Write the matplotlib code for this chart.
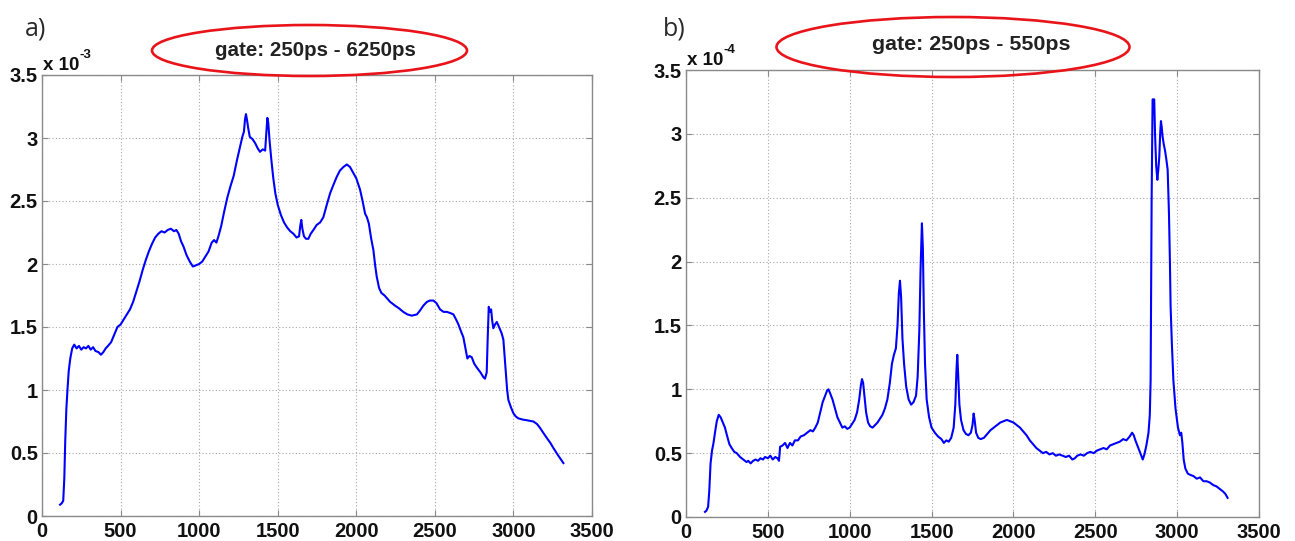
import matplotlib
matplotlib.use("Agg")
import matplotlib.pyplot as plt
from matplotlib.patches import Ellipse

plt.rcParams['font.family'] = ['Liberation Sans', 'DejaVu Sans']

# ---- panel a) : gate 250ps - 6250ps (intensity in units of 1e-3) ----
a_x = [115, 125, 135, 142, 148, 155, 162, 170, 180, 192, 205, 220, 235, 250, 265, 280,
       295, 310, 325, 340, 360, 375, 390, 405, 420, 440, 460, 480, 500, 520, 540, 560,
       580, 600, 620, 640, 660, 680, 700, 720, 740, 760, 780, 800, 820, 840, 855, 870,
       885, 900, 920, 940, 960, 980, 1000, 1020, 1040, 1060, 1080, 1095, 1110, 1125,
       1140, 1160, 1180, 1200, 1220, 1240, 1260, 1275, 1285, 1292, 1298, 1305, 1312,
       1322, 1340, 1356, 1372, 1387, 1405, 1420, 1428, 1434, 1440, 1448, 1460, 1472,
       1485, 1500, 1520, 1540, 1560, 1580, 1600, 1620, 1636, 1643, 1650, 1657, 1667,
       1680, 1695, 1710, 1727, 1748, 1770, 1790, 1810, 1833, 1855, 1875, 1895, 1918,
       1940, 1960, 1982, 2000, 2024, 2040, 2056, 2068, 2080, 2095, 2109, 2120, 2130,
       2145, 2160, 2180, 2194, 2215, 2246, 2270, 2299, 2325, 2353, 2386, 2405, 2427,
       2450, 2469, 2490, 2510, 2533, 2555, 2576, 2600, 2618, 2635, 2650, 2668, 2681,
       2695, 2707, 2720, 2735, 2750, 2766, 2790, 2810, 2819, 2830, 2836, 2843, 2850,
       2858, 2865, 2872, 2883, 2894, 2905, 2915, 2925, 2936, 2945, 2953, 2960, 2968,
       2985, 3000, 3015, 3031, 3060, 3085, 3105, 3127, 3150, 3169, 3190, 3212, 3235,
       3254, 3285, 3318]
a_y = [0.09, 0.10, 0.12, 0.30, 0.60, 0.85, 1.00, 1.15, 1.25, 1.33, 1.36, 1.33, 1.35,
       1.32, 1.34, 1.33, 1.35, 1.32, 1.34, 1.31, 1.30, 1.28, 1.30, 1.33, 1.35, 1.38,
       1.44, 1.50, 1.52, 1.56, 1.60, 1.64, 1.70, 1.78, 1.86, 1.95, 2.03, 2.10, 2.16,
       2.21, 2.24, 2.26, 2.25, 2.27, 2.28, 2.26, 2.27, 2.24, 2.18, 2.14, 2.07, 2.02,
       1.98, 1.99, 2.00, 2.02, 2.06, 2.10, 2.17, 2.19, 2.17, 2.23, 2.30, 2.42, 2.53,
       2.62, 2.70, 2.82, 2.93, 3.01, 3.05, 3.15, 3.19, 3.14, 3.08, 3.01, 2.99, 2.96,
       2.92, 2.89, 2.91, 2.90, 3.05, 3.16, 3.12, 2.98, 2.82, 2.68, 2.56, 2.47, 2.39,
       2.33, 2.29, 2.26, 2.24, 2.21, 2.22, 2.30, 2.35, 2.28, 2.22, 2.20, 2.20, 2.24,
       2.27, 2.31, 2.33, 2.37, 2.46, 2.56, 2.63, 2.69, 2.74, 2.77, 2.79, 2.77, 2.72,
       2.68, 2.59, 2.50, 2.40, 2.37, 2.32, 2.20, 2.11, 1.99, 1.90, 1.81, 1.77, 1.75,
       1.73, 1.70, 1.67, 1.65, 1.62, 1.60, 1.59, 1.60, 1.63, 1.67, 1.70, 1.71, 1.71,
       1.69, 1.64, 1.62, 1.62, 1.61, 1.60, 1.56, 1.52, 1.46, 1.42, 1.33, 1.25, 1.27,
       1.26, 1.21, 1.18, 1.14, 1.10, 1.09, 1.14, 1.40, 1.66, 1.62, 1.64, 1.55, 1.49,
       1.52, 1.54, 1.51, 1.48, 1.45, 1.40, 1.25, 1.11, 1.00, 0.92, 0.86, 0.815, 0.79,
       0.775, 0.765, 0.76, 0.755, 0.75, 0.73, 0.70, 0.66, 0.62, 0.58, 0.54, 0.48, 0.42]

# ---- panel b) : gate 250ps - 550ps (intensity in units of 1e-4) ----
b_x = [116, 125, 135, 142, 150, 159, 168, 177, 188, 200, 212, 225, 238, 250, 265, 279,
       295, 310, 330, 350, 370, 380, 395, 410, 425, 440, 455, 470, 483, 500, 515, 530,
       545, 559, 568, 575, 590, 605, 620, 635, 650, 665, 684, 700, 720, 740, 760, 775,
       790, 805, 820, 835, 850, 862, 870, 880, 895, 910, 925, 940, 955, 970, 985, 1000,
       1015, 1030, 1045, 1058, 1068, 1075, 1082, 1090, 1100, 1112, 1125, 1140, 1155,
       1170, 1185, 1200, 1215, 1230, 1245, 1258, 1270, 1282, 1292, 1300, 1307, 1314,
       1322, 1332, 1345, 1360, 1375, 1390, 1405, 1415, 1425, 1433, 1441, 1447, 1453,
       1460, 1470, 1485, 1500, 1520, 1540, 1560, 1575, 1590, 1605, 1620, 1635, 1645,
       1652, 1657, 1663, 1670, 1680, 1695, 1710, 1725, 1740, 1750, 1757, 1763, 1772,
       1785, 1800, 1820, 1840, 1860, 1880, 1900, 1920, 1940, 1960, 1980, 2000, 2020,
       2040, 2060, 2080, 2100, 2120, 2140, 2160, 2180, 2200, 2220, 2240, 2260, 2280,
       2300, 2320, 2340, 2360, 2375, 2390, 2410, 2430, 2450, 2470, 2490, 2510, 2530,
       2550, 2570, 2590, 2610, 2630, 2650, 2670, 2690, 2710, 2725, 2735, 2745, 2760,
       2775, 2790, 2800, 2812, 2825, 2833, 2838, 2844, 2850, 2860, 2865, 2872, 2879,
       2885, 2891, 2897, 2901, 2906, 2911, 2918, 2926, 2934, 2942, 2946, 2950, 2956,
       2960, 2968, 2977, 2990, 3005, 3017, 3025, 3032, 3040, 3050, 3065, 3080, 3100,
       3120, 3140, 3160, 3180, 3200, 3220, 3240, 3260, 3280, 3295, 3308]
b_y = [0.04, 0.05, 0.08, 0.20, 0.42, 0.52, 0.58, 0.66, 0.75, 0.80, 0.78, 0.74, 0.70,
       0.64, 0.57, 0.54, 0.51, 0.50, 0.47, 0.45, 0.43, 0.44, 0.42, 0.44, 0.45, 0.44,
       0.46, 0.45, 0.47, 0.46, 0.48, 0.45, 0.47, 0.46, 0.44, 0.55, 0.56, 0.58, 0.54,
       0.58, 0.56, 0.60, 0.60, 0.63, 0.64, 0.66, 0.68, 0.67, 0.70, 0.74, 0.82, 0.90,
       0.95, 0.99, 1.00, 0.97, 0.92, 0.85, 0.78, 0.74, 0.70, 0.71, 0.69, 0.70, 0.73,
       0.76, 0.82, 0.92, 1.03, 1.08, 1.05, 0.95, 0.82, 0.74, 0.71, 0.70, 0.72, 0.74,
       0.77, 0.80, 0.85, 0.92, 1.05, 1.20, 1.27, 1.32, 1.50, 1.75, 1.85, 1.72, 1.40,
       1.20, 1.02, 0.92, 0.88, 0.90, 0.95, 1.10, 1.45, 1.95, 2.30, 2.10, 1.60, 1.20,
       0.92, 0.78, 0.70, 0.66, 0.63, 0.61, 0.58, 0.60, 0.59, 0.62, 0.70, 0.88, 1.15,
       1.27, 1.10, 0.88, 0.76, 0.68, 0.65, 0.64, 0.66, 0.72, 0.81, 0.76, 0.66, 0.62,
       0.61, 0.62, 0.65, 0.68, 0.70, 0.72, 0.74, 0.75, 0.76, 0.75, 0.74, 0.72, 0.70,
       0.67, 0.64, 0.60, 0.57, 0.54, 0.52, 0.50, 0.51, 0.49, 0.50, 0.48, 0.49, 0.48,
       0.47, 0.48, 0.45, 0.46, 0.48, 0.49, 0.48, 0.50, 0.51, 0.50, 0.52, 0.53, 0.54,
       0.53, 0.56, 0.57, 0.58, 0.59, 0.61, 0.60, 0.63, 0.66, 0.64, 0.60, 0.55, 0.50,
       0.45, 0.49, 0.56, 0.66, 0.80, 1.07, 2.46, 3.27, 3.27, 3.00, 2.75, 2.64, 2.72,
       2.82, 3.02, 3.10, 3.05, 2.98, 2.92, 2.87, 2.80, 2.72, 2.55, 2.38, 1.99, 1.65,
       1.35, 1.07, 0.85, 0.70, 0.64, 0.66, 0.58, 0.45, 0.38, 0.34, 0.33, 0.32, 0.30,
       0.31, 0.28, 0.28, 0.27, 0.25, 0.24, 0.22, 0.20, 0.18, 0.15]

x_ticks = [0, 500, 1000, 1500, 2000, 2500, 3000, 3500]
x_tick_labels = ['0', '500', '1000', '1500', '2000', '2500', '3000', '3500']
y_ticks = [0, 0.5, 1, 1.5, 2, 2.5, 3, 3.5]
y_tick_labels = ['0', '0.5', '1', '1.5', '2', '2.5', '3', '3.5']

panel_letters = ['a)', 'b)']
gate_labels = ['gate: 250ps - 6250ps', 'gate: 250ps - 550ps']
exponents = ['-3', '-4']

W, H = 1295, 541
fig = plt.figure(figsize=(W / 100, H / 100), dpi=100)


def fx(px):
    return px / W


def fy(py):
    return 1 - py / H


def style_axes(ax):
    ax.set_xlim(0, 3500)
    ax.set_ylim(0, 3.5)
    ax.set_xticks(x_ticks)
    ax.set_xticklabels(x_tick_labels)
    ax.set_yticks(y_ticks)
    ax.set_yticklabels(y_tick_labels)
    for s in ax.spines.values():
        s.set_color('#8a8a8a')
        s.set_linewidth(1.0)
    ax.tick_params(direction='in', top=True, right=True, length=4, width=0.8,
                   color='#8a8a8a', labelsize=14.5, pad=4)
    ax.tick_params(axis='y', pad=3)
    for lab in ax.get_xticklabels() + ax.get_yticklabels():
        lab.set_fontweight('bold')
        lab.set_color('#111111')
    ax.grid(True, linestyle=(0, (1, 2)), color='#a8a8a8', linewidth=0.8)


# axes boxes in pixel coordinates: left, top, right, bottom
boxes = [(42, 75, 592, 516), (686, 70, 1259, 517)]
series = [(a_x, a_y), (b_x, b_y)]
axes = []
for (l, t, r, b), (xs, ys) in zip(boxes, series):
    ax = fig.add_axes([fx(l), fy(b), (r - l) / W, (b - t) / H])
    style_axes(ax)
    ax.plot(xs, ys, color='#0000ff', linewidth=1.5)
    axes.append(ax)

# panel letters
letter_pos = [(25, 36), (663, 36)]
for (px, py), lab in zip(letter_pos, panel_letters):
    fig.text(fx(px), fy(py), lab, fontsize=18, color='#2a2a2a',
             family=['Open Sans', 'DejaVu Sans'], va='baseline')

# exponent labels above the y axes
for (l, t, r, b), e in zip(boxes, exponents):
    fig.text(fx(l + 1), fy(t - 5), 'x 10', fontsize=13.5, fontweight='bold',
             color='#111111', va='baseline')
    fig.text(fx(l + 38), fy(t - 17), e, fontsize=9.5, fontweight='bold',
             color='#111111', va='baseline')

# highlighted gate labels
ellipses = [((309.5, 50.5), 315, 51), ((953, 47), 353, 60)]
text_pos = [(315, 50), (971, 45)]
text_size = [14.8, 15.4]
for (c, w, h), (tx, ty), lab, fs in zip(ellipses, text_pos, gate_labels, text_size):
    el = Ellipse((fx(c[0]), fy(c[1])), w / W, h / H, transform=fig.transFigure,
                 fill=False, edgecolor='#e8141a', linewidth=1.9, zorder=10)
    fig.add_artist(el)
    fig.text(fx(tx), fy(ty), lab, fontsize=fs, fontweight='bold', color='#222222',
             ha='center', va='center', zorder=11)

fig.savefig('out.png', dpi=100)
